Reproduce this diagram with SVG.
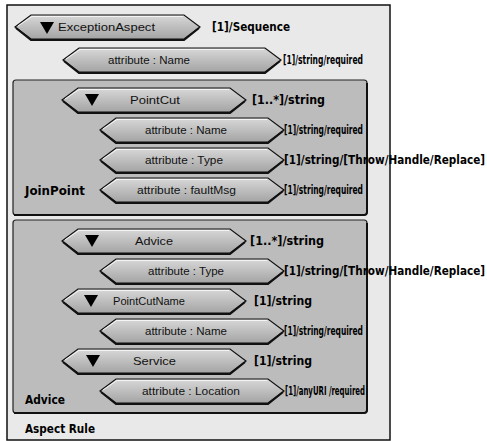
<svg xmlns="http://www.w3.org/2000/svg" xmlns:xlink="http://www.w3.org/1999/xlink" width="487" height="441" viewBox="0 0 487 441">
<style>
.outer{fill:#e9e9e9;stroke:#111;stroke-width:1.5}
.box{fill:#bcbcbc;stroke:#222;stroke-width:1.2}
.boxsh{fill:none;stroke:#111;stroke-width:2}
.hex{fill:url(#hg);stroke:#111;stroke-width:1.2;stroke-linejoin:miter}
.hexsh{fill:none;stroke:#111;stroke-width:2.2}
.hexhl{fill:none;stroke:#f4f4f4;stroke-width:1}
.tri{fill:#000}
.t{font-family:"Liberation Sans",Arial,sans-serif;font-size:11px;fill:#111}
.lb{font-family:"Liberation Sans Narrow","DejaVu Sans Condensed","Liberation Sans",sans-serif;font-size:12.5px;font-weight:bold;fill:#000}
</style>
<defs>
<linearGradient id="hg" x1="0" y1="0" x2="0" y2="1">
<stop offset="0" stop-color="#d8d8d8"/>
<stop offset="1" stop-color="#a4a4a4"/>
</linearGradient>
<symbol id="hexS" overflow="visible">
<path class="hex" d="M0,0 L16,-12 L168,-12 L184,0 L168,12 L16,12 Z"/>
<path class="hexhl" d="M3,-1 L17,-10.5 L167,-10.5"/>
<path class="hexsh" d="M1,1 L16,13 L168,13 L183,1"/>
</symbol>
<symbol id="tri" overflow="visible">
<path class="tri" d="M0,0 L14,0 L7,12 Z"/>
</symbol>
</defs>

<g id="aspect-rule">
<rect class="outer" x="7" y="5" width="383" height="435"/>
<text class="lb" x="25" y="433" textLength="70" lengthAdjust="spacingAndGlyphs">Aspect Rule</text>
</g>

<g id="exception-aspect">
<path class="hex" d="M15,27 L31,15 L184,15 L200,27 L184,39 L31,39 Z"/>
<path class="hexhl" d="M18,26 L32,16.5 L183,16.5"/>
<path class="hexsh" d="M16,28 L31,40 L184,40 L199,28"/>
<use xlink:href="#tri" x="40" y="22"/>
<text class="t" x="58" y="31" font-size="12.5" textLength="97" lengthAdjust="spacingAndGlyphs">ExceptionAspect</text>
<text class="lb" x="212" y="31" textLength="78" lengthAdjust="spacingAndGlyphs">[1]/Sequence</text>
</g>

<g id="ea-attr-name">
<path class="hex" d="M63,60 L79,48 L265,48 L281,60 L265,72 L79,72 Z"/>
<path class="hexhl" d="M66,59 L80,49.5 L264,49.5"/>
<path class="hexsh" d="M64,61 L79,73 L265,73 L280,61"/>
<text class="t" x="108" y="64" textLength="82" lengthAdjust="spacingAndGlyphs">attribute : Name</text>
<text class="lb" x="283" y="64" textLength="80" lengthAdjust="spacingAndGlyphs">[1]/string/required</text>
</g>

<g id="joinpoint">
<rect class="box" x="13" y="80" width="354" height="135" rx="3"/>
<path class="boxsh" d="M14,215 L364,215 Q367,215 367,212 L367,83"/>
<text class="lb" x="25" y="195" textLength="60" lengthAdjust="spacingAndGlyphs">JoinPoint</text>
</g>

<g id="pointcut">
<use xlink:href="#hexS" x="62" y="100"/>
<use xlink:href="#tri" x="85" y="94"/>
<text class="t" x="130" y="104" textLength="50" lengthAdjust="spacingAndGlyphs">PointCut</text>
<text class="lb" x="252" y="104" textLength="73" lengthAdjust="spacingAndGlyphs">[1..*]/string</text>
</g>

<g id="pc-attr-name">
<use xlink:href="#hexS" x="100" y="130"/>
<text class="t" x="145" y="134" textLength="82" lengthAdjust="spacingAndGlyphs">attribute : Name</text>
<text class="lb" x="284" y="134" textLength="79" lengthAdjust="spacingAndGlyphs">[1]/string/required</text>
</g>

<g id="pc-attr-type">
<use xlink:href="#hexS" x="100" y="160"/>
<text class="t" x="145" y="164" textLength="78" lengthAdjust="spacingAndGlyphs">attribute : Type</text>
<text class="lb" x="284" y="164" textLength="201" lengthAdjust="spacingAndGlyphs">[1]/string/[Throw/Handle/Replace]</text>
</g>

<g id="pc-attr-faultmsg">
<use xlink:href="#hexS" x="100" y="190"/>
<text class="t" x="137" y="194" textLength="99" lengthAdjust="spacingAndGlyphs">attribute : faultMsg</text>
<text class="lb" x="284" y="194" textLength="79" lengthAdjust="spacingAndGlyphs">[1]/string/required</text>
</g>

<g id="advice-box">
<rect class="box" x="13" y="220" width="354" height="193" rx="3"/>
<path class="boxsh" d="M14,413 L364,413 Q367,413 367,410 L367,223"/>
<text class="lb" x="25" y="404" textLength="40" lengthAdjust="spacingAndGlyphs">Advice</text>
</g>

<g id="advice">
<use xlink:href="#hexS" x="62" y="241"/>
<use xlink:href="#tri" x="85" y="235"/>
<text class="t" x="135" y="245" textLength="38" lengthAdjust="spacingAndGlyphs">Advice</text>
<text class="lb" x="250" y="245" textLength="74" lengthAdjust="spacingAndGlyphs">[1..*]/string</text>
</g>

<g id="advice-attr-type">
<use xlink:href="#hexS" x="100" y="271"/>
<text class="t" x="148" y="275" textLength="76" lengthAdjust="spacingAndGlyphs">attribute : Type</text>
<text class="lb" x="284" y="275" textLength="201" lengthAdjust="spacingAndGlyphs">[1]/string/[Throw/Handle/Replace]</text>
</g>

<g id="pointcutname">
<use xlink:href="#hexS" x="62" y="301"/>
<use xlink:href="#tri" x="84" y="295"/>
<text class="t" x="113" y="305" textLength="72" lengthAdjust="spacingAndGlyphs">PointCutName</text>
<text class="lb" x="254" y="305" textLength="58" lengthAdjust="spacingAndGlyphs">[1]/string</text>
</g>

<g id="pcn-attr-name">
<use xlink:href="#hexS" x="100" y="331"/>
<text class="t" x="145" y="335" textLength="82" lengthAdjust="spacingAndGlyphs">attribute : Name</text>
<text class="lb" x="284" y="335" textLength="79" lengthAdjust="spacingAndGlyphs">[1]/string/required</text>
</g>

<g id="service">
<use xlink:href="#hexS" x="62" y="361"/>
<use xlink:href="#tri" x="86" y="355"/>
<text class="t" x="133" y="365" textLength="43" lengthAdjust="spacingAndGlyphs">Service</text>
<text class="lb" x="254" y="365" textLength="58" lengthAdjust="spacingAndGlyphs">[1]/string</text>
</g>

<g id="service-attr-location">
<use xlink:href="#hexS" x="100" y="391"/>
<text class="t" x="142" y="395" textLength="98" lengthAdjust="spacingAndGlyphs">attribute : Location</text>
<text class="lb" x="285" y="395" textLength="80" lengthAdjust="spacingAndGlyphs">[1]/anyURI /required</text>
</g>

<g id="connectors"/>
</svg>
